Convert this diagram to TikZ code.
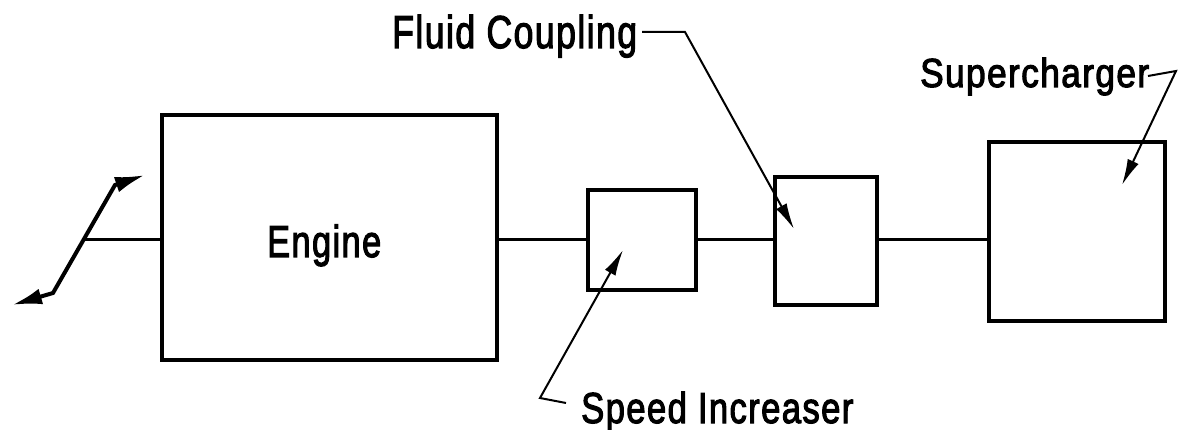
\documentclass[tikz,border=0pt]{standalone}
\usepackage{graphicx}
\usepackage{fontspec}
\setmainfont{Liberation Sans}[LetterSpace=4, UprightFeatures={FakeBold=2.8}]
\usetikzlibrary{arrows.meta}
\begin{document}
\begin{tikzpicture}[x=1pt,y=-1pt,
  blk/.style={draw, line width=4pt, inner sep=0pt, rectangle},
  shaft/.style={line width=3pt},
  leader/.style={line width=2pt, -{Latex[length=26pt,width=12pt]}},
  lbl/.style={inner sep=0pt, anchor=base west},
  lever/.style={line width=4pt, {Latex[length=30pt,width=16pt]}-{Latex[length=30pt,width=16pt]}}]
\useasboundingbox (0,0) rectangle (1178,430);
% boxes
\node[blk, minimum width=335pt, minimum height=245pt] (eng) at (329.5,237.5) {};
\node[blk, minimum width=108pt, minimum height=100pt] (si) at (642,240) {};
\node[blk, minimum width=102pt, minimum height=128pt] (fcb) at (826,241) {};
\node[blk, minimum width=176pt, minimum height=179pt] (scb) at (1077,231.5) {};
% labels
\node[lbl] (englbl) at (267,257) {\fontsize{44.7}{44.7}\selectfont\scalebox{0.77}[1]{Engine}};
\node[lbl] (fc) at (392,48) {\fontsize{46}{46}\selectfont\scalebox{0.775}[1]{Fluid Coupling}};
\node[lbl] (sp) at (581,423) {\fontsize{43.3}{43.3}\selectfont\scalebox{0.8}[1]{Speed Increaser}};
\node[lbl] (sc) at (920,87) {\fontsize{40.5}{40.5}\selectfont\scalebox{0.87}[1]{Supercharger}};
% shaft
\coordinate (sh) at (0,240);
\coordinate (k) at (83,240);
\draw[shaft] (k) -- (eng.west |- sh);
\draw[shaft] (eng.east |- sh) -- (si.west |- sh);
\draw[shaft] (si.east |- sh) -- (fcb.west |- sh);
\draw[shaft] (fcb.east |- sh) -- (scb.west |- sh);
% rotation arrow
\coordinate (lt) at (12,305);
\coordinate (lk) at (53,293);
\coordinate (uk) at (115,185);
\coordinate (ut) at (145,175);
\draw[lever] (lt) -- (lk) -- (uk) -- (ut);
% leaders
\coordinate (fc1) at (642,32);
\coordinate (fc2) at (685,32);
\coordinate (fct) at (794,229);
\draw[leader] (fc1) -- (fc2) -- (fct);
\coordinate (sp1) at (566,403);
\coordinate (sp2) at (540,398);
\coordinate (spt) at (623,250);
\draw[leader] (sp1) -- (sp2) -- (spt);
\coordinate (sc1) at (1148,76);
\coordinate (sc2) at (1176,71);
\coordinate (sct) at (1122,185);
\draw[leader] (sc1) -- (sc2) -- (sct);
\end{tikzpicture}
\end{document}
